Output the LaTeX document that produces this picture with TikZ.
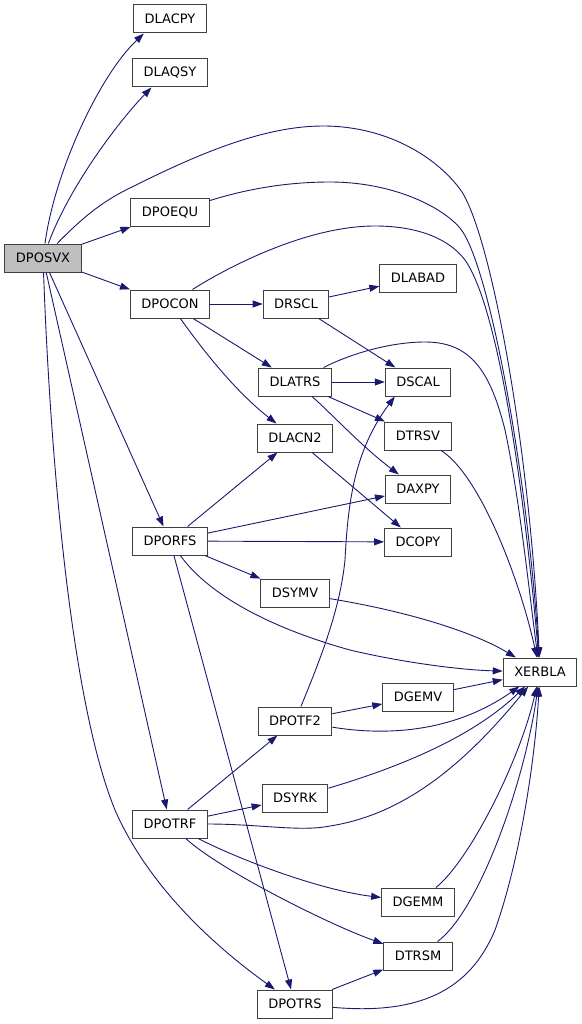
\documentclass[tikz,border=0pt]{standalone}
\usepackage{fontspec}
\setmainfont{DejaVu Sans}
\usetikzlibrary{arrows.meta}
\definecolor{edgec}{HTML}{191970}
\definecolor{borderc}{HTML}{404040}
\definecolor{rootfill}{HTML}{BFBFBF}
\begin{document}
\begin{tikzpicture}[x=1pt,y=-1pt,
  fn/.style={draw=borderc, line width=1pt, fill=white, minimum height=28pt, inner xsep=11pt, inner ysep=0pt, font=\fontsize{13}{15}\selectfont},
  root/.style={fn, fill=rootfill},
  e/.style={draw=edgec, line width=0.9pt, -{Triangle[length=10pt,width=7pt]}}]
\useasboundingbox (0,0) rectangle (581,1024);
\node[root] (dposvx) at (43,258) {DPOSVX};
\node[fn] (dlacpy) at (170,19) {DLACPY};
\node[fn] (dlaqsy) at (170,73) {DLAQSY};
\node[fn] (dpoequ) at (170,213) {DPOEQU};
\node[fn] (dpocon) at (170,304) {DPOCON};
\node[fn] (drscl) at (296,304) {DRSCL};
\node[fn] (dlabad) at (418,278) {DLABAD};
\node[fn] (dlatrs) at (295,382) {DLATRS};
\node[fn] (dscal) at (418,382) {DSCAL};
\node[fn] (dtrsv) at (418,436) {DTRSV};
\node[fn] (dlacn2) at (295,438) {DLACN2};
\node[fn] (daxpy) at (418,489) {DAXPY};
\node[fn] (dcopy) at (418,542) {DCOPY};
\node[fn] (dporfs) at (170,541) {DPORFS};
\node[fn] (dsymv) at (295,593) {DSYMV};
\node[fn] (xerbla) at (540,672) {XERBLA};
\node[fn] (dgemv) at (418,697) {DGEMV};
\node[fn] (dpotf2) at (295,721) {DPOTF2};
\node[fn] (dsyrk) at (295,798) {DSYRK};
\node[fn] (dpotrf) at (170,824) {DPOTRF};
\node[fn] (dgemm) at (418,902) {DGEMM};
\node[fn] (dtrsm) at (418,956) {DTRSM};
\node[fn] (dpotrs) at (295,1004) {DPOTRS};

% DPOSVX
\draw[e] (dposvx) .. controls (55,170) and (100,75) .. (dlacpy.-151);
\draw[e] (dposvx) .. controls (70,185) and (120,120) .. (dlaqsy.-142);
\draw[e] (dposvx) .. controls (85,215) and (105,200) .. (130,188) .. controls (190,158) and (260,126) .. (323,126) .. controls (390,126) and (440,160) .. (462,192) .. controls (492,240) and (530,450) .. (xerbla);
\draw[e] (dposvx) -- (dpoequ);
\draw[e] (dposvx) -- (dpocon);
\draw[e] (dposvx) -- (dporfs);
\draw[e] (dposvx) -- (dpotrf);
\draw[e] (dposvx) .. controls (50,450) and (70,700) .. (115,810) .. controls (150,890) and (220,950) .. (dpotrs);
% DPOEQU
\draw[e] (dpoequ) .. controls (250,188) and (290,182) .. (330,182) .. controls (390,182) and (440,205) .. (460,228) .. controls (490,265) and (528,480) .. (xerbla);
% DPOCON
\draw[e] (dpocon) -- (drscl);
\draw[e] (dpocon) -- (dlatrs);
\draw[e] (dpocon) .. controls (210,360) and (240,395) .. (dlacn2);
\draw[e] (dpocon) .. controls (215,275) and (300,226) .. (375,226) .. controls (420,226) and (450,240) .. (465,260) .. controls (500,310) and (525,500) .. (xerbla);
% DRSCL
\draw[e] (drscl) -- (dlabad);
\draw[e] (drscl) -- (dscal);
% DLATRS
\draw[e] (dlatrs) -- (dscal);
\draw[e] (dlatrs) -- (dtrsv);
\draw[e] (dlatrs) .. controls (330,412) and (360,445) .. (daxpy);
\draw[e] (dlatrs) .. controls (350,354) and (390,342) .. (425,342) .. controls (470,342) and (490,370) .. (505,430) .. controls (520,500) and (530,600) .. (xerbla);
% DTRSV
\draw[e] (dtrsv) .. controls (480,475) and (520,580) .. (xerbla);
% DLACN2
\draw[e] (dlacn2) -- (dcopy);
% DPORFS
\draw[e] (dporfs) -- (dlacn2);
\draw[e] (dporfs) -- (daxpy);
\draw[e] (dporfs) -- (dcopy);
\draw[e] (dporfs) -- (dsymv);
\draw[e] (dporfs) .. controls (205,590) and (260,625) .. (350,650) .. controls (400,662) and (460,670) .. (xerbla);
\draw[e] (dporfs) -- (dpotrs);
% DSYMV
\draw[e] (dsymv) .. controls (400,610) and (470,630) .. (xerbla);
% DPOTF2
\draw[e] (dpotf2) .. controls (320,660) and (340,610) .. (345,560) .. controls (348,500) and (355,450) .. (dscal.-148);
\draw[e] (dpotf2) -- (dgemv);
\draw[e] (dpotf2) .. controls (380,735) and (450,735) .. (xerbla);
% DGEMV
\draw[e] (dgemv) -- (xerbla);
% DPOTRF
\draw[e] (dpotrf) -- (dpotf2);
\draw[e] (dpotrf) -- (dsyrk);
\draw[e] (dpotrf) .. controls (260,824) and (300,832) .. (330,826) .. controls (400,815) and (460,770) .. (xerbla);
\draw[e] (dpotrf) .. controls (240,860) and (320,890) .. (dgemm);
\draw[e] (dpotrf) .. controls (220,870) and (330,925) .. (dtrsm);
% DSYRK
\draw[e] (dsyrk) .. controls (390,770) and (470,740) .. (xerbla);
% DGEMM
\draw[e] (dgemm) .. controls (470,860) and (520,760) .. (xerbla);
% DTRSM
\draw[e] (dtrsm) .. controls (480,910) and (525,780) .. (xerbla);
% DPOTRS
\draw[e] (dpotrs) -- (dtrsm);
\draw[e] (dpotrs) .. controls (420,1015) and (470,990) .. (495,930) .. controls (520,860) and (535,760) .. (xerbla);
\end{tikzpicture}
\end{document}
